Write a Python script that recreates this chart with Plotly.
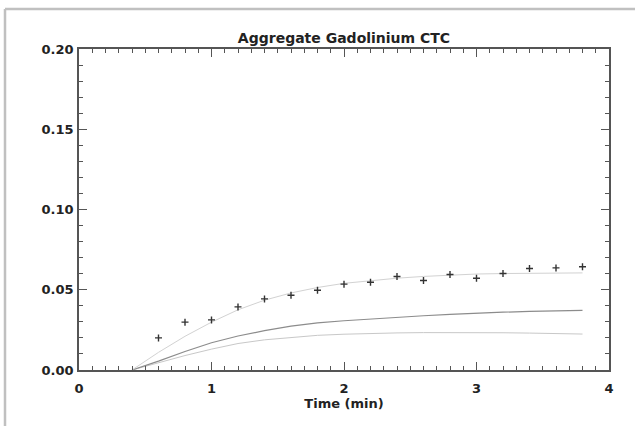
import plotly.graph_objects as go

# Measured data points (+ markers)
t_points = [0.6, 0.8, 1.0, 1.2, 1.4, 1.6, 1.8, 2.0, 2.2, 2.4, 2.6, 2.8, 3.0, 3.2, 3.4, 3.6, 3.8]
y_points = [0.0200, 0.0298, 0.0312, 0.0393, 0.0443, 0.0466, 0.0497, 0.0535, 0.0547, 0.0583,
            0.0558, 0.0595, 0.0572, 0.0601, 0.0632, 0.0636, 0.0643]

# Curves
t_curve = [0.4, 0.6, 0.8, 1.0, 1.2, 1.4, 1.6, 1.8, 2.0, 2.2, 2.4, 2.6, 2.8, 3.0, 3.2, 3.4, 3.6, 3.8]
y_fit = [0.0, 0.0110, 0.0210, 0.0298, 0.0375, 0.0435, 0.0480, 0.0514, 0.0540, 0.0557, 0.0572,
         0.0583, 0.0592, 0.0598, 0.0601, 0.0603, 0.0604, 0.0605]
y_mid = [0.0, 0.0055, 0.0115, 0.0170, 0.0212, 0.0245, 0.0273, 0.0293, 0.0307, 0.0318, 0.0328,
         0.0338, 0.0346, 0.0354, 0.0360, 0.0365, 0.0369, 0.0372]
y_low = [0.0, 0.0045, 0.0090, 0.0130, 0.0165, 0.0188, 0.0204, 0.0216, 0.0223, 0.0228, 0.0231,
         0.0233, 0.0234, 0.0234, 0.0232, 0.0230, 0.0227, 0.0224]

x_ticks = [0, 1, 2, 3, 4]
y_ticks = [0.0, 0.05, 0.10, 0.15, 0.20]
y_ticklabels = ["0.00", "0.05", "0.10", "0.15", "0.20"]

FONT = "DejaVu Sans, Arial, sans-serif"

fig = go.Figure()
fig.add_trace(go.Scatter(x=t_curve, y=y_low, mode="lines",
                         line=dict(color="#c8c8c8", width=1), showlegend=False))
fig.add_trace(go.Scatter(x=t_curve, y=y_mid, mode="lines",
                         line=dict(color="#8c8c8c", width=1.2), showlegend=False))
fig.add_trace(go.Scatter(x=t_curve, y=y_fit, mode="lines",
                         line=dict(color="#d2d2d2", width=1), showlegend=False))
fig.add_trace(go.Scatter(x=t_points, y=y_points, mode="markers",
                         marker=dict(symbol="cross-thin", size=5,
                                     line=dict(color="#333333", width=1.4)),
                         showlegend=False))

axis_common = dict(
    showgrid=False, zeroline=False, showline=True, linecolor="#555555", linewidth=1.5,
    mirror="allticks", ticks="inside", ticklen=8, tickwidth=1, tickcolor="#555555",
    tickfont=dict(family=FONT, size=13, color="#222222", weight="bold"),
)

fig.update_layout(
    width=635, height=426,
    margin=dict(l=79, r=26, t=49, b=56),
    paper_bgcolor="white", plot_bgcolor="white",
    title=dict(text="Aggregate Gadolinium CTC", x=0.5, xref="paper", xanchor="center",
               y=1.0, yref="paper", yanchor="bottom", pad=dict(b=6),
               font=dict(family=FONT, size=14, color="#222222", weight="bold")),
    xaxis=dict(range=[0, 4], tickvals=x_ticks, ticktext=[str(v) for v in x_ticks],
               minor=dict(dtick=0.1, tick0=0, ticklen=4, ticks="inside", tickcolor="#555555"),
               title=dict(text="Time (min)", standoff=0,
                          font=dict(family=FONT, size=13, color="#222222", weight="bold")),
               ticklabelstandoff=6,
               **axis_common),
    yaxis=dict(range=[0, 0.2], tickvals=y_ticks, ticktext=y_ticklabels,
               minor=dict(dtick=0.01, tick0=0, ticklen=4, ticks="inside", tickcolor="#555555"),
               ticklabelstandoff=1,
               **axis_common),
    shapes=[
        dict(type="line", xref="paper", yref="paper",
             x0=(5 - 79) / 530, x1=(5 - 79) / 530, y0=(370 - 9) / 321, y1=(370 - 430) / 321,
             line=dict(color="#c0c0c0", width=2.5)),
        dict(type="line", xref="paper", yref="paper",
             x0=(5 - 79) / 530, x1=(640 - 79) / 530, y0=(370 - 9) / 321, y1=(370 - 9) / 321,
             line=dict(color="#c0c0c0", width=2.5)),
    ],
)

fig.write_html("out.html",
               config={"displayModeBar": False},
               post_script="document.body.style.margin='0px';document.body.style.overflow='hidden';")
